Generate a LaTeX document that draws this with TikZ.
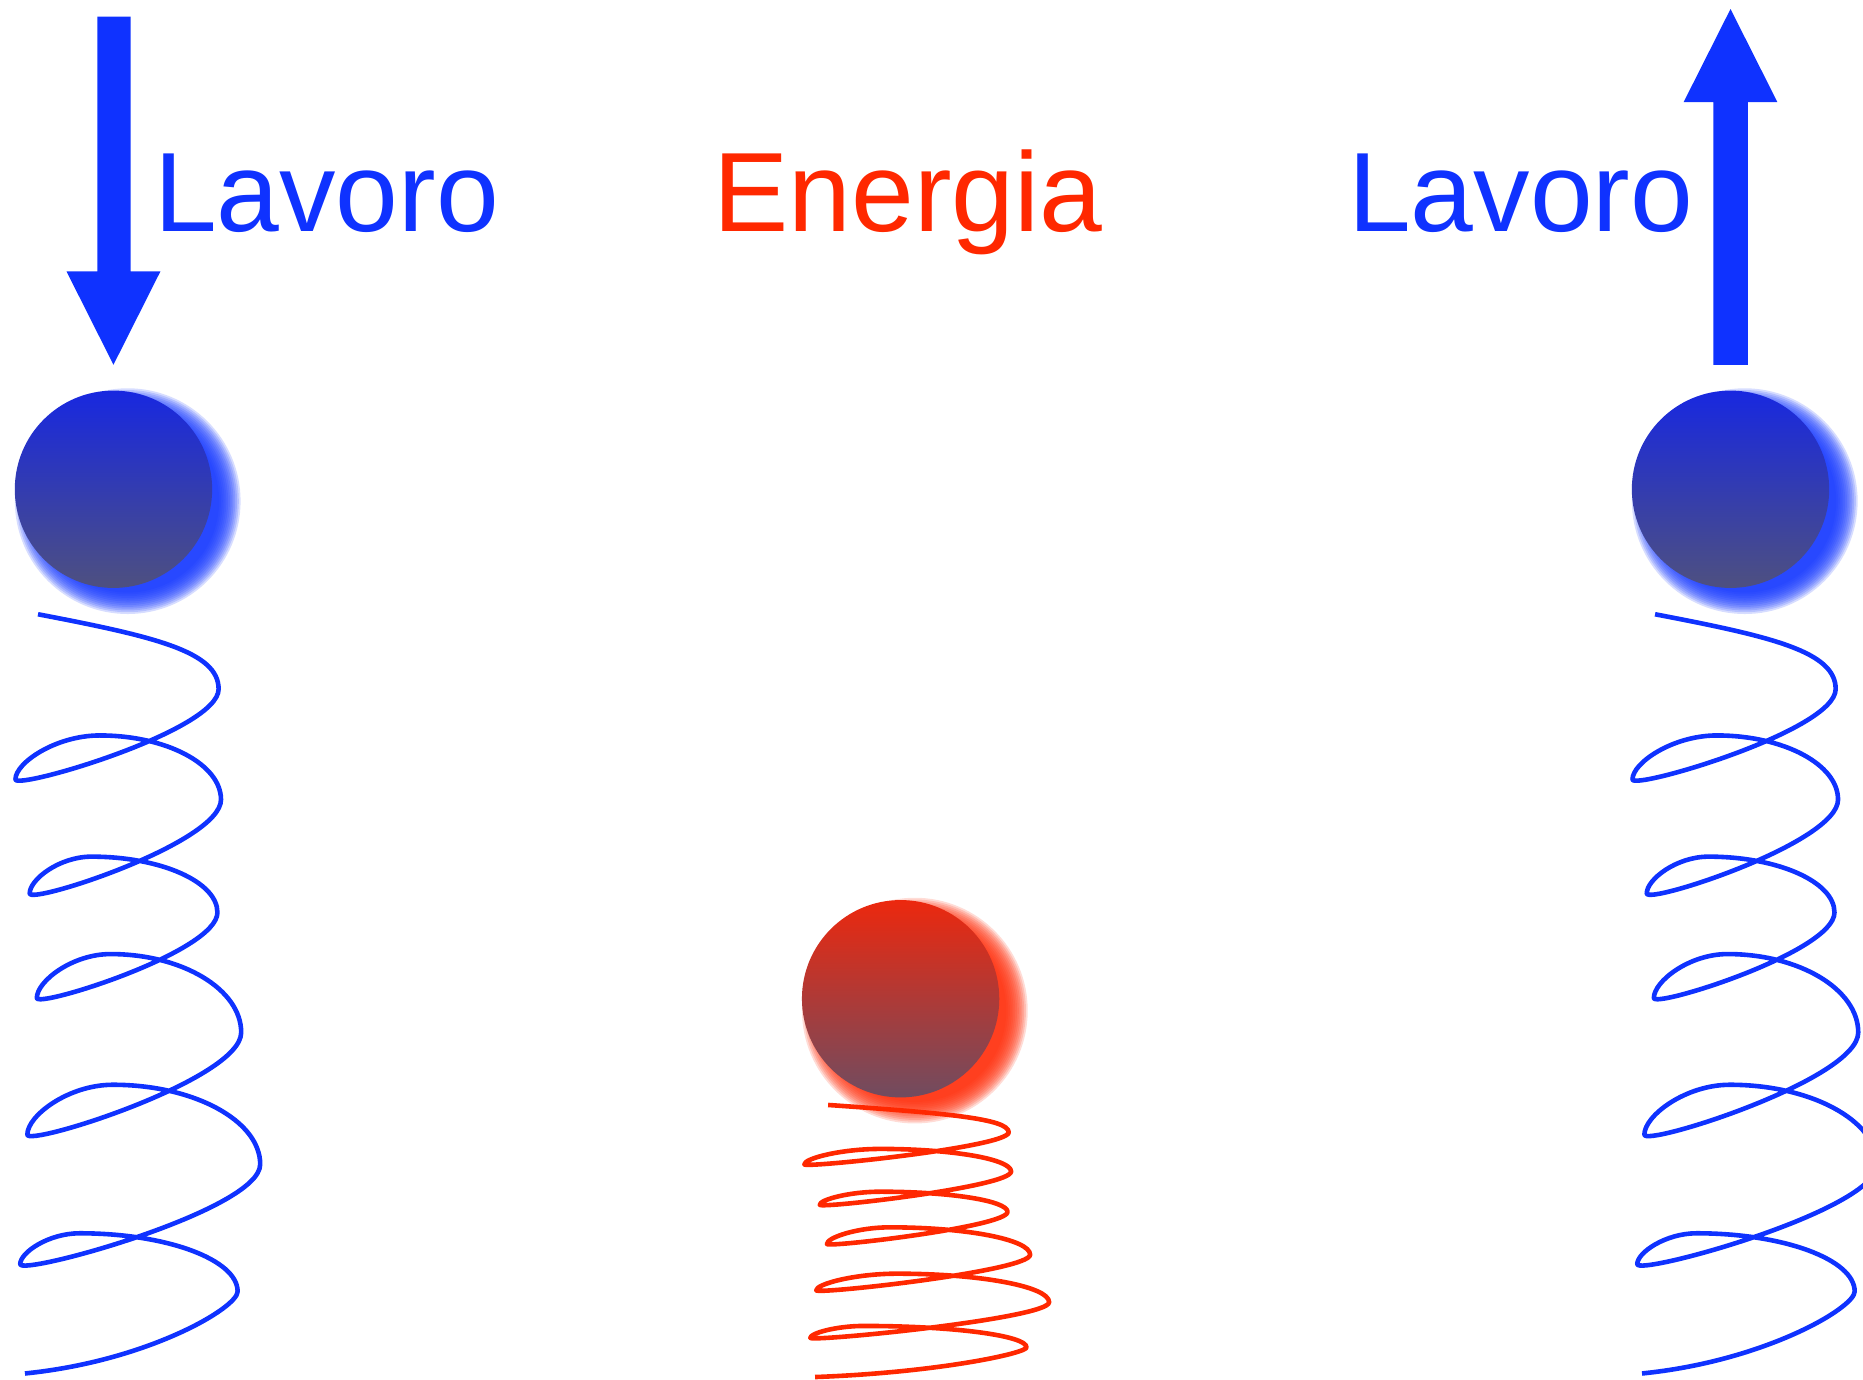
\documentclass[tikz,border=0pt]{standalone}
\usepackage{fontspec}
\setmainfont{Liberation Sans}
\usetikzlibrary{calc}

\definecolor{inkblue}{RGB}{15,50,255}
\definecolor{inkred}{RGB}{255,40,0}
\definecolor{ballblueA}{RGB}{24,40,224}
\definecolor{ballblueB}{RGB}{78,80,128}
\definecolor{ballredA}{RGB}{236,40,14}
\definecolor{ballredB}{RGB}{112,76,96}
\definecolor{glowblue}{RGB}{20,55,255}
\definecolor{glowred}{RGB}{255,45,10}

% soft halo: stacked translucent discs, shifted down-right of a centre
\newcommand\halo[2]{%
  \foreach \rr in {95,93.5,...,77} {
    \fill[#2, opacity=0.17] ($(#1)+(12,10)$) circle[radius=\rr];
  }}

% one coil spring through the named points <prefix>S, R1.., L1.., T1.., E
\newcommand\coilpath[1]{%
  (#1S) .. controls ($(#1S)!0.5!(#1R1|-#1S)!0.3!(#1R1)$) and ($(#1R1)!0.5!(#1R1|-#1S)$) .. (#1R1)
  \foreach \i/\j in {1/2,2/3,3/4,4/5,5/6} {
    .. controls ($(#1R\i)!0.46!(#1R\i|-#1L\i)$) and ($(#1L\i)!-0.12!(#1L\i|-#1R\i)$) .. (#1L\i)
    .. controls ($(#1L\i)!0.38!(#1L\i|-#1T\i)$) and ($(#1T\i)!0.52!(#1L\i|-#1T\i)$) .. (#1T\i)
    .. controls ($(#1T\i)!0.55!(#1R\j|-#1T\i)$) and ($(#1R\j)!0.55!(#1R\j|-#1T\i)$) .. (#1R\j)
  }
  .. controls ($(#1R6)!0.2!(#1R6|-#1E)$) and ($(#1E)!0.5!(#1R6|-#1E)!0.15!(#1R6)$) .. (#1E)}

\begin{document}
\begin{tikzpicture}[x=0.01cm,y=-0.01cm,
  lbl/.style={font=\fontsize{27pt}{32pt}\selectfont, inner sep=0pt, anchor=base west},
  ball/.style={circle, minimum size=1.66cm, inner sep=0pt, shading angle=18},
  coil/.style={line width=1.1pt, line join=round, line cap=butt}]

\useasboundingbox (0,0) rectangle (1568,1161);
\clip (0,0) rectangle (1568,1161);

% ball centres
\coordinate (cl) at (95.5,411.8);
\coordinate (cr) at (1456.5,411.8);
\coordinate (cm) at (758,840.6);

% halos
\halo{cl}{glowblue}
\halo{cr}{glowblue}
\halo{cm}{glowred}

% balls
\node[ball, top color=ballblueA, bottom color=ballblueB] (lball) at (cl) {};
\node[ball, top color=ballblueA, bottom color=ballblueB] (rball) at (cr) {};
\node[ball, top color=ballredA, bottom color=ballredB] (mball) at (cm) {};

% block arrows
\fill[inkblue] (82,14) -- (110,14) -- (110,228.5) -- (135,228.5) -- (95.5,307)
  -- (56,228.5) -- (82,228.5) -- cycle;
\fill[inkblue] (1442,307) -- (1471,307) -- (1471,86) -- (1496,86) -- (1456.5,7.6)
  -- (1417,86) -- (1442,86) -- cycle;

% labels
\node[lbl, text=inkblue] (lwork) at (129,195) {Lavoro};
\node[lbl, text=inkred] (energy) at (600,195) {Energia};
\node[lbl, text=inkblue] (rwork) at (1134,195) {Lavoro};

% spring points, left (and right = left shifted)
\foreach \n/\x/\y in {S/32/517, R1/184/580, L1/13/656, T1/84/619, R2/186/673,
  L2/25/752, T2/77/721, R3/183/768, L3/31/840, T3/93/803, R4/203/869,
  L4/23/955, T4/95/913, R5/219/980, L5/17/1064, T5/67/1038, R6/200/1087, E/21/1156} {
  \coordinate (l\n) at (\x,\y);
  \coordinate (r\n) at (\x+1361,\y);
}
% spring points, middle
\foreach \n/\x/\y in {S/697/930, R1/849/953, L1/677/980, T1/741/967, R2/851/986,
  L2/690/1014, T2/741/1003, R3/848/1020, L3/696/1047, T3/749/1033, R4/867/1056,
  L4/687/1086, T4/755/1072, R5/883/1096, L5/682/1126, T5/727/1116, R6/864/1134, E/686/1159} {
  \coordinate (m\n) at (\x,\y);
}

\draw[coil, inkblue] \coilpath{l};
\draw[coil, inkblue] \coilpath{r};
\draw[coil, inkred] \coilpath{m};

\end{tikzpicture}
\end{document}
